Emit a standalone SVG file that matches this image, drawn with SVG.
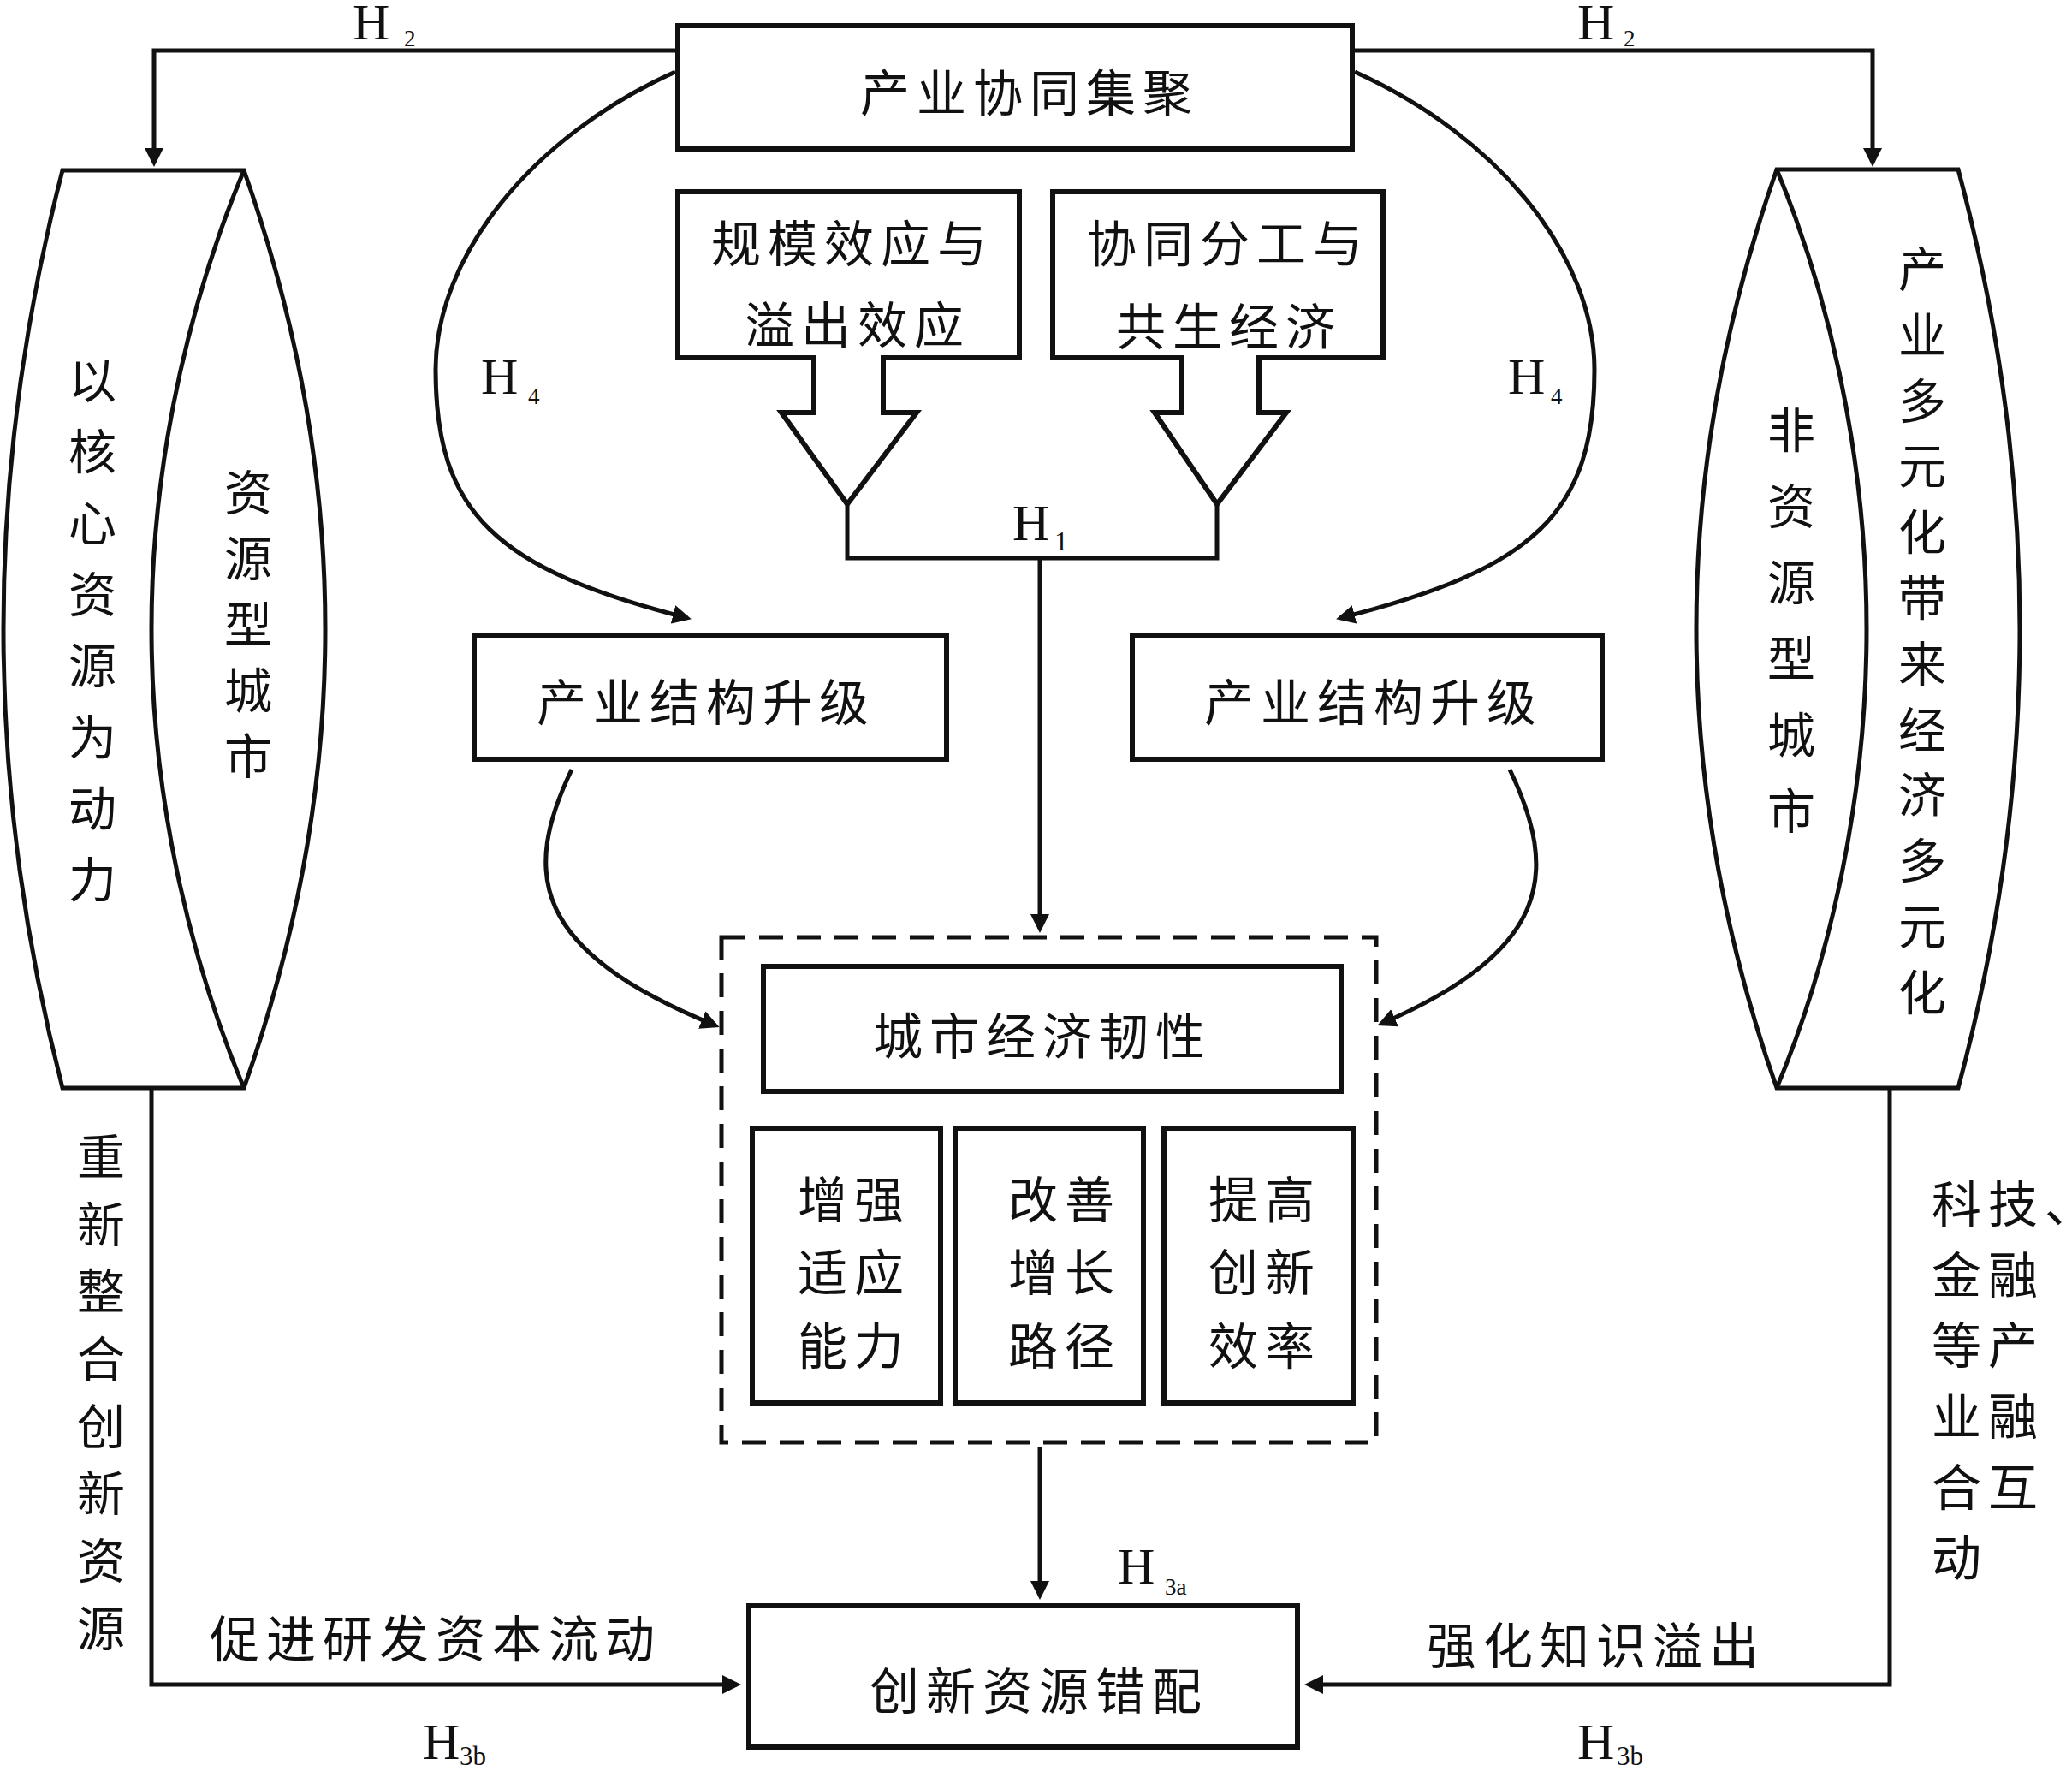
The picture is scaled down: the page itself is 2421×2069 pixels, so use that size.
<svg xmlns="http://www.w3.org/2000/svg" width="2421" height="2069" viewBox="0 0 2421 2069">
<style>
.bg{fill:#fff}
.box{fill:#fff;stroke:#111;stroke-width:6}
.cyl{fill:#fff;stroke:#111;stroke-width:5;stroke-linejoin:miter}
.dash{fill:none;stroke:#111;stroke-width:5;stroke-dasharray:28 16}
.ln{fill:none;stroke:#111;stroke-width:5}
.zh{font-family:"Noto Sans CJK SC","Noto Sans CJK JP",sans-serif;font-size:58px;fill:#111;letter-spacing:8px;dominant-baseline:central}
.zv{font-family:"Noto Sans CJK SC","Noto Sans CJK JP",sans-serif;font-size:56px;fill:#111;text-anchor:middle;dominant-baseline:central}
.hl{font-family:"Liberation Serif","Times New Roman",serif;font-size:60px;fill:#111}
.hs{font-family:"Liberation Serif","Times New Roman",serif;font-size:27px;fill:#111}
</style>
<defs>
<marker id="ah" markerUnits="userSpaceOnUse" markerWidth="22" markerHeight="22" viewBox="0 0 22 22" refX="17" refY="11" orient="auto">
<path d="M0,0 L22,11 L0,22 Z" fill="#111"/>
</marker>
</defs>
<rect class="bg" x="0" y="0" width="2421" height="2069"/>

<g id="connectors">
<path class="ln" d="M789,59 H180 V190" marker-end="url(#ah)"/>
<path class="ln" d="M1583,59 H2188 V190" marker-end="url(#ah)"/>
<path class="ln" d="M789,84 C620,160 509,300 509,432 C509,600 580,665 803,722" marker-end="url(#ah)"/>
<path class="ln" d="M1583,84 C1752,160 1863,300 1863,432 C1863,600 1792,665 1566,722" marker-end="url(#ah)"/>
<path class="ln" d="M990,589 V652 H1422 V589"/>
<path class="ln" d="M1215,652 V1085" marker-end="url(#ah)"/>
<path class="ln" d="M668,899 C610,1020 620,1110 836,1198" marker-end="url(#ah)"/>
<path class="ln" d="M1764,899 C1822,1020 1812,1110 1614,1196" marker-end="url(#ah)"/>
<path class="ln" d="M1215,1690 V1864" marker-end="url(#ah)"/>
<path class="ln" d="M177,1271 V1968 H861" marker-end="url(#ah)"/>
<path class="ln" d="M2208,1271 V1968 H1529" marker-end="url(#ah)"/>
<text class="hl" x="412" y="46">H</text><text class="hs" x="472" y="54">2</text>
<text class="hl" x="1843" y="46">H</text><text class="hs" x="1897" y="54">2</text>
<text class="hl" x="562" y="460">H</text><text class="hs" x="617" y="472">4</text>
<text class="hl" x="1762" y="460">H</text><text class="hs" x="1812" y="472">4</text>
<text class="hl" x="1183" y="631">H</text><text class="hs" x="1232" y="643" style="font-size:32px">1</text>
<text class="hl" x="1306" y="1850">H</text><text class="hs" x="1361" y="1863">3a</text>
<text class="hl" x="494" y="2055">H</text><text class="hs" x="537" y="2062" style="font-size:31px">3b</text>
<text class="hl" x="1843" y="2055">H</text><text class="hs" x="1889" y="2062" style="font-size:31px">3b</text>
<text class="zh" x="245" y="1911">促进研发资本流动</text>
<text class="zh" x="1667" y="1919">强化知识溢出</text>
<g class="zv">
<text x="118" y="1347">重</text><text x="118" y="1426">新</text><text x="118" y="1504">整</text><text x="118" y="1583">合</text><text x="118" y="1662">创</text><text x="118" y="1740">新</text><text x="118" y="1819">资</text><text x="118" y="1898">源</text>
</g>
<text class="zh" x="2257" y="1403">科技、</text>
<text class="zh" x="2257" y="1486">金融</text>
<text class="zh" x="2257" y="1568">等产</text>
<text class="zh" x="2257" y="1651">业融</text>
<text class="zh" x="2257" y="1734">合互</text>
<text class="zh" x="2257" y="1816">动</text>
</g>

<g id="node-top">
<rect class="box" x="792" y="30" width="788" height="144"/>
<text class="zh" x="1005" y="105">产业协同集聚</text>
</g>

<g id="node-scale">
<path class="box" d="M792,224 H1191 V418 H1032 V482 H1071 L990,589 L913,482 H951 V418 H792 Z"/>
<text class="zh" x="831" y="281">规模效应与</text>
<text class="zh" x="870" y="376">溢出效应</text>
</g>

<g id="node-division">
<path class="box" d="M1230,224 H1616 V418 H1471 V482 H1503 L1422,589 L1349,482 H1381 V418 H1230 Z"/>
<text class="zh" x="1270" y="281">协同分工与</text>
<text class="zh" x="1304" y="378">共生经济</text>
</g>

<g id="node-left-cyl">
<path class="cyl" d="M73,199 H285 Q475,735 285,1271 H73 Q-65,735 73,199 Z"/>
<path class="cyl" d="M285,199 C230,330 177,520 177,735 C177,950 230,1140 285,1271" fill="none"/>
<g class="zv">
<text x="108" y="440">以</text><text x="108" y="523">核</text><text x="108" y="607">心</text><text x="108" y="690">资</text><text x="108" y="773">源</text><text x="108" y="857">为</text><text x="108" y="940">动</text><text x="108" y="1023">力</text>
<text x="290" y="571">资</text><text x="290" y="648">源</text><text x="290" y="725">型</text><text x="290" y="802">城</text><text x="290" y="879">市</text>
</g>
</g>

<g id="node-right-cyl">
<path class="cyl" d="M2076,198 H2288 Q2432,735 2288,1271 H2076 Q1888,735 2076,198 Z"/>
<path class="cyl" d="M2076,198 C2131,330 2181,520 2181,735 C2181,950 2131,1140 2076,1271" fill="none"/>
<g class="zv">
<text x="2093" y="498">非</text><text x="2093" y="587">资</text><text x="2093" y="676">源</text><text x="2093" y="765">型</text><text x="2093" y="854">城</text><text x="2093" y="943">市</text>
<text x="2246" y="310">产</text><text x="2246" y="387">业</text><text x="2246" y="464">多</text><text x="2246" y="540">元</text><text x="2246" y="617">化</text><text x="2246" y="694">带</text><text x="2246" y="771">来</text><text x="2246" y="848">经</text><text x="2246" y="924">济</text><text x="2246" y="1001">多</text><text x="2246" y="1078">元</text><text x="2246" y="1155">化</text>
</g>
</g>

<g id="node-upgrade-left">
<rect class="box" x="554" y="742" width="552" height="145"/>
<text class="zh" x="627" y="817">产业结构升级</text>
</g>

<g id="node-upgrade-right">
<rect class="box" x="1323" y="742" width="549" height="145"/>
<text class="zh" x="1407" y="817">产业结构升级</text>
</g>

<g id="node-resilience-group">
<rect class="dash" x="843" y="1095" width="765" height="590"/>
</g>

<g id="node-resilience">
<rect class="box" x="892" y="1129" width="675" height="146"/>
<text class="zh" x="1020" y="1207">城市经济韧性</text>
</g>

<g id="node-adapt">
<rect class="box" x="879" y="1318" width="220" height="321"/>
<text class="zh" x="932" y="1398">增强</text>
<text class="zh" x="932" y="1483">适应</text>
<text class="zh" x="932" y="1569">能力</text>
</g>

<g id="node-path">
<rect class="box" x="1116" y="1318" width="220" height="321"/>
<text class="zh" x="1178" y="1398">改善</text>
<text class="zh" x="1178" y="1483">增长</text>
<text class="zh" x="1178" y="1569">路径</text>
</g>

<g id="node-efficiency">
<rect class="box" x="1360" y="1318" width="221" height="321"/>
<text class="zh" x="1412" y="1398">提高</text>
<text class="zh" x="1412" y="1483">创新</text>
<text class="zh" x="1412" y="1569">效率</text>
</g>

<g id="node-misallocation">
<rect class="box" x="875" y="1876" width="641" height="165"/>
<text class="zh" x="1016" y="1972">创新资源错配</text>
</g>
</svg>
